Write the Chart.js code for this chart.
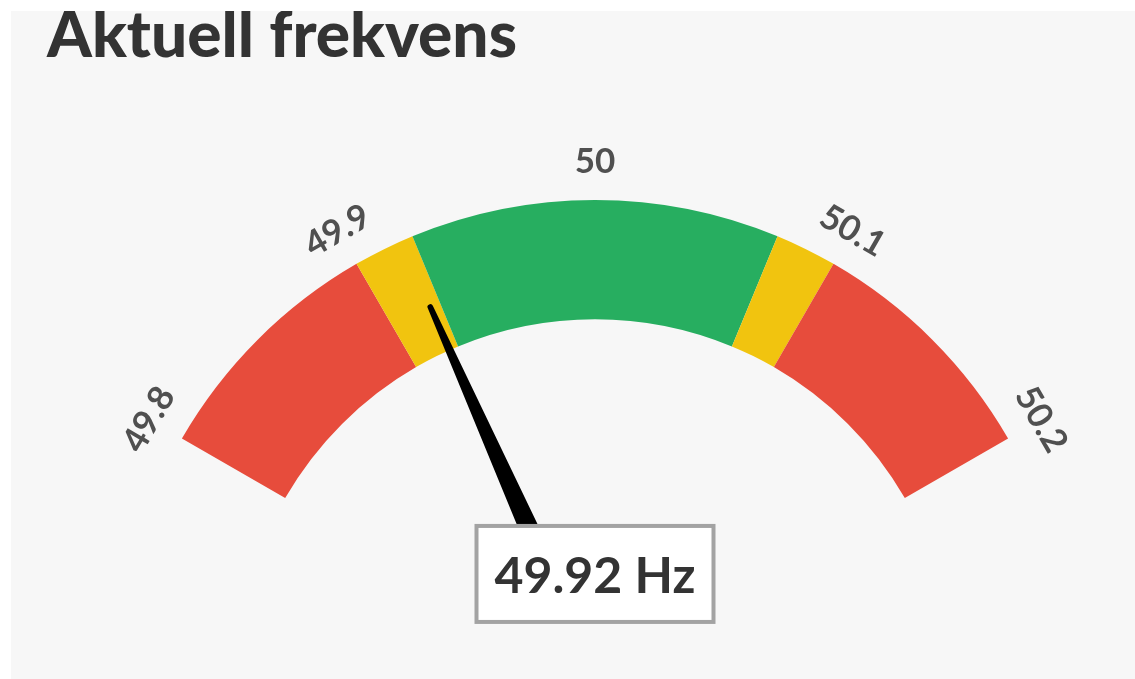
<!DOCTYPE html>
<html>
<head>
<meta charset="utf-8">
<title>Aktuell frekvens</title>
<script src="https://cdn.jsdelivr.net/npm/chart.js@4.4.1/dist/chart.umd.min.js"></script>
<style>
  html, body { margin: 0; padding: 0; background: #fff; }
  canvas { display: block; }
</style>
</head>
<body>
<canvas id="gauge" width="1135" height="679"></canvas>
<script>
// data
const title = 'Aktuell frekvens';
const bandEdges = [49.8, 49.9, 49.925, 50.075, 50.1, 50.2];
const tickValues = [49.8, 49.9, 50, 50.1, 50.2];
const tickLabels = ['49.8', '49.9', '50', '50.1', '50.2'];
const currentValue = 49.92;
const unit = 'Hz';

// colours of the bands (red / yellow / green / yellow / red)
const bandColors = ['#e74c3c', '#f1c40f', '#27ae60', '#f1c40f', '#e74c3c'];
const bandSizes = bandEdges.slice(1).map((v, i) => +(v - bandEdges[i]).toFixed(3));

function geometry(chart) {
    const arcs = chart.getDatasetMeta(0).data;
    const first = arcs[0], last = arcs[arcs.length - 1];
    const min = bandEdges[0], max = bandEdges[bandEdges.length - 1];
    const a0 = first.startAngle, a1 = last.endAngle;
    return {
        x: first.x, y: first.y,
        outer: first.outerRadius, inner: first.innerRadius,
        angle: v => a0 + (v - min) / (max - min) * (a1 - a0)
    };
}

const gaugeDecor = {
    id: 'gaugeDecor',
    beforeDraw(chart) {
        const ctx = chart.ctx;
        ctx.save();
        ctx.fillStyle = '#ffffff';
        ctx.fillRect(0, 0, chart.width, chart.height);
        ctx.fillStyle = '#f7f7f7';
        ctx.fillRect(11, 11, chart.width - 11, chart.height - 11);
        // title, cut by the panel edge
        ctx.beginPath();
        ctx.rect(11, 11, chart.width - 11, chart.height - 11);
        ctx.clip();
        ctx.fillStyle = '#333333';
        ctx.font = '900 64px Lato';
        ctx.textAlign = 'left';
        ctx.textBaseline = 'alphabetic';
        ctx.fillText(title, 47, 57);
        ctx.restore();
    },
    afterDatasetsDraw(chart) {
        const ctx = chart.ctx;
        const g = geometry(chart);

        // labels around the arc
        ctx.save();
        ctx.fillStyle = '#505050';
        ctx.font = 'bold 35px Lato';
        ctx.textAlign = 'center';
        ctx.textBaseline = 'middle';
        tickValues.forEach((v, i) => {
            const a = g.angle(v);
            const r = g.outer + 38;
            ctx.save();
            ctx.translate(g.x + r * Math.cos(a), g.y + r * Math.sin(a));
            ctx.rotate(a + Math.PI / 2);
            ctx.fillText(tickLabels[i], 0, 0);
            ctx.restore();
        });
        ctx.restore();

        // needle
        const a = g.angle(currentValue);
        const c = Math.cos(a), s = Math.sin(a);
        const px = -s, py = c;
        const rBase = 150, rTip = g.outer - 72;
        const wBase = 10, wTip = 2.8;
        ctx.save();
        ctx.fillStyle = '#000000';
        ctx.beginPath();
        ctx.moveTo(g.x + rBase * c + wBase * px, g.y + rBase * s + wBase * py);
        ctx.lineTo(g.x + rTip * c + wTip * px, g.y + rTip * s + wTip * py);
        ctx.arc(g.x + rTip * c, g.y + rTip * s, wTip, a + Math.PI / 2, a - Math.PI / 2, true);
        ctx.lineTo(g.x + rBase * c - wBase * px, g.y + rBase * s - wBase * py);
        ctx.closePath();
        ctx.fill();
        ctx.restore();

        // value box
        const bw = 237, bh = 96;
        const bx = g.x - bw / 2, by = g.y - 151;
        ctx.save();
        ctx.fillStyle = '#ffffff';
        ctx.fillRect(bx, by, bw, bh);
        ctx.strokeStyle = '#a3a3a3';
        ctx.lineWidth = 4;
        ctx.strokeRect(bx, by, bw, bh);
        ctx.fillStyle = '#333333';
        ctx.font = 'bold 50px Lato';
        ctx.textAlign = 'center';
        ctx.textBaseline = 'alphabetic';
        ctx.fillText(currentValue.toFixed(2) + ' ' + unit, g.x, g.y - 84);
        ctx.restore();
    }
};

const ctx = document.getElementById('gauge').getContext('2d');
const gaugeChart = new Chart(ctx, {
    type: 'doughnut',
    data: {
        labels: bandEdges.slice(1).map((v, i) => bandEdges[i] + '–' + v),
        datasets: [{
            data: bandSizes,
            backgroundColor: bandColors,
            borderWidth: 0,
            clip: false
        }]
    },
    options: {
        responsive: false,
        animation: false,
        rotation: -60,
        circumference: 120,
        radius: 477,
        cutout: '75%',
        layout: { padding: { left: 55, top: 19, right: 0, bottom: 0 } },
        plugins: {
            legend: { display: false },
            tooltip: { enabled: false }
        }
    },
    plugins: [gaugeDecor]
});
</script>
</body>
</html>
